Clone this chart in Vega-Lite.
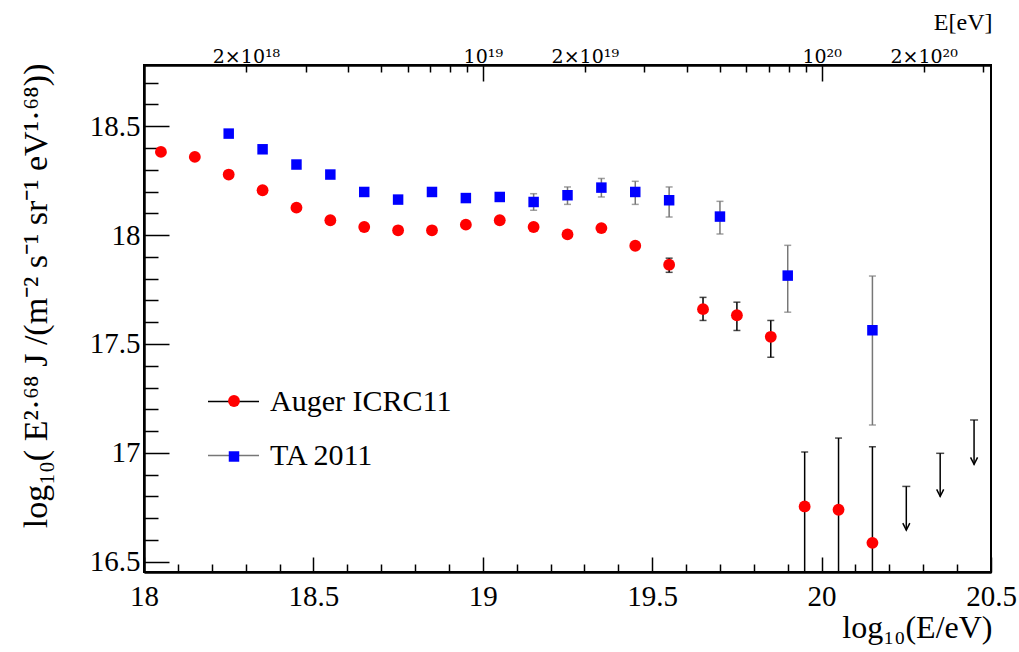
{
  "$schema": "https://vega.github.io/schema/vega-lite/v6.json",
  "width": 847,
  "height": 507,
  "autosize": {"type": "none"},
  "padding": {"left": 144, "top": 65, "right": 28, "bottom": 80},
  "background": "white",
  "config": {
    "view": {"stroke": "black", "strokeWidth": 2},
    "font": "Liberation Serif",
    "axis": {
      "grid": false,
      "domainColor": "black",
      "domainWidth": 2,
      "tickColor": "black",
      "tickWidth": 1.5,
      "labelColor": "black",
      "titleColor": "black",
      "labelFont": "Liberation Serif",
      "titleFont": "Liberation Serif",
      "titleFontWeight": "normal",
      "labelFlush": false,
      "labelOverlap": false
    },
    "legend": {"padding": 0, "offset": 0, "labelFont": "Liberation Serif", "labelColor": "black"}
  },
  "datasets": {
    "points": [
      {"series": "Auger", "logE": 18.05, "v": 18.382},
      {"series": "Auger", "logE": 18.15, "v": 18.359},
      {"series": "Auger", "logE": 18.25, "v": 18.278},
      {"series": "Auger", "logE": 18.35, "v": 18.206},
      {"series": "Auger", "logE": 18.45, "v": 18.126},
      {"series": "Auger", "logE": 18.55, "v": 18.068},
      {"series": "Auger", "logE": 18.65, "v": 18.037},
      {"series": "Auger", "logE": 18.75, "v": 18.022},
      {"series": "Auger", "logE": 18.85, "v": 18.022},
      {"series": "Auger", "logE": 18.95, "v": 18.048},
      {"series": "Auger", "logE": 19.05, "v": 18.068},
      {"series": "Auger", "logE": 19.15, "v": 18.037},
      {"series": "Auger", "logE": 19.25, "v": 18.003},
      {"series": "Auger", "logE": 19.35, "v": 18.032},
      {"series": "Auger", "logE": 19.45, "v": 17.951},
      {"series": "Auger", "logE": 19.55, "v": 17.864},
      {"series": "Auger", "logE": 19.65, "v": 17.66},
      {"series": "Auger", "logE": 19.75, "v": 17.632},
      {"series": "Auger", "logE": 19.85, "v": 17.533},
      {"series": "Auger", "logE": 19.95, "v": 16.754},
      {"series": "Auger", "logE": 20.05, "v": 16.739},
      {"series": "Auger", "logE": 20.15, "v": 16.587},
      {"series": "TA", "logE": 18.25, "v": 18.466},
      {"series": "TA", "logE": 18.35, "v": 18.394},
      {"series": "TA", "logE": 18.45, "v": 18.324},
      {"series": "TA", "logE": 18.55, "v": 18.278},
      {"series": "TA", "logE": 18.65, "v": 18.198},
      {"series": "TA", "logE": 18.75, "v": 18.163},
      {"series": "TA", "logE": 18.85, "v": 18.198},
      {"series": "TA", "logE": 18.95, "v": 18.17},
      {"series": "TA", "logE": 19.05, "v": 18.175},
      {"series": "TA", "logE": 19.15, "v": 18.152},
      {"series": "TA", "logE": 19.25, "v": 18.183},
      {"series": "TA", "logE": 19.35, "v": 18.218},
      {"series": "TA", "logE": 19.45, "v": 18.198},
      {"series": "TA", "logE": 19.55, "v": 18.16},
      {"series": "TA", "logE": 19.7, "v": 18.085},
      {"series": "TA", "logE": 19.9, "v": 17.814},
      {"series": "TA", "logE": 20.15, "v": 17.563}
    ],
    "errs": [
      {"series": "Auger ICRC11", "logE": 19.55, "lo": 17.829, "hi": 17.894},
      {"series": "Auger ICRC11", "logE": 19.65, "lo": 17.608, "hi": 17.714},
      {"series": "Auger ICRC11", "logE": 19.75, "lo": 17.562, "hi": 17.692},
      {"series": "Auger ICRC11", "logE": 19.85, "lo": 17.439, "hi": 17.608},
      {"series": "Auger ICRC11", "logE": 19.95, "lo": 16.0, "hi": 17.004},
      {"series": "Auger ICRC11", "logE": 20.05, "lo": 16.0, "hi": 17.068},
      {"series": "Auger ICRC11", "logE": 20.15, "lo": 16.0, "hi": 17.028},
      {"series": "TA 2011", "logE": 19.05, "lo": 18.163, "hi": 18.187},
      {"series": "TA 2011", "logE": 19.15, "lo": 18.114, "hi": 18.19},
      {"series": "TA 2011", "logE": 19.25, "lo": 18.141, "hi": 18.221},
      {"series": "TA 2011", "logE": 19.35, "lo": 18.175, "hi": 18.26},
      {"series": "TA 2011", "logE": 19.45, "lo": 18.141, "hi": 18.247},
      {"series": "TA 2011", "logE": 19.55, "lo": 18.083, "hi": 18.221},
      {"series": "TA 2011", "logE": 19.7, "lo": 18.005, "hi": 18.155},
      {"series": "TA 2011", "logE": 19.9, "lo": 17.646, "hi": 17.953},
      {"series": "TA 2011", "logE": 20.15, "lo": 17.128, "hi": 17.812}
    ],
    "limits": [
      {"logE": 20.25, "top": 16.846, "tip": 16.645},
      {"logE": 20.35, "top": 16.998, "tip": 16.8},
      {"logE": 20.45, "top": 17.151, "tip": 16.947}
    ]
  },
  "resolve": {
    "scale": {"x": "shared", "y": "shared"},
    "axis": {"x": "independent", "y": "independent"}
  },
  "layer": [
    {
      "data": {"name": "errs"},
      "mark": {"type": "rule", "strokeWidth": 1.5, "clip": true},
      "encoding": {
        "x": {
          "field": "logE", "type": "quantitative",
          "scale": {"domain": [18, 20.5], "nice": false, "zero": false},
          "axis": {
            "orient": "bottom",
            "values": [18, 18.5, 19, 19.5, 20, 20.5],
            "format": "~g",
            "tickSize": -15,
            "labelFontSize": 29,
            "labelPadding": 25,
            "title": "log₁₀(E/eV)",
            "titleFontSize": 32,
            "titleAnchor": "end",
            "titleAlign": "right",
            "titleBaseline": "alphabetic",
            "titleX": 848,
            "titleY": 65
          }
        },
        "y": {
          "field": "lo", "type": "quantitative",
          "scale": {"domain": [16.453, 18.781], "nice": false, "zero": false},
          "axis": {
            "orient": "left",
            "values": [16.5, 17, 17.5, 18, 18.5],
            "format": "~g",
            "tickSize": -25,
            "labelFontSize": 29,
            "labelPadding": 29,
            "labelBaseline": "middle",
            "title": "log₁₀( E²·⁶⁸ J /(m⁻²  s⁻¹ sr⁻¹ eV¹·⁶⁸))",
            "titleFontSize": 34,
            "titleAnchor": "end",
            "titleAlign": "right",
            "titleAngle": 270,
            "titleBaseline": "alphabetic",
            "titleX": -98,
            "titleY": -2
          }
        },
        "y2": {"field": "hi"},
        "stroke": {
          "field": "series", "type": "nominal",
          "scale": {"domain": ["Auger ICRC11", "TA 2011"], "range": ["black", "#777777"]},
          "legend": {
            "orient": "none",
            "legendX": 63,
            "legendY": 310,
            "title": null,
            "symbolType": "stroke",
            "symbolSize": 2601,
            "symbolStrokeWidth": 1.5,
            "labelFontSize": 30,
            "labelLimit": 0,
            "labelOffset": 10,
            "rowPadding": 12
          }
        }
      }
    },
    {
      "data": {"name": "errs"},
      "transform": [
        {"filter": "datum.series == 'Auger ICRC11'"},
        {"fold": ["lo", "hi"], "as": ["end", "yv"]}
      ],
      "mark": {"type": "tick", "orient": "horizontal", "size": 7, "thickness": 1.5, "color": "black", "clip": true},
      "encoding": {
        "x": {
          "field": "logE", "type": "quantitative",
          "scale": {"domain": [18, 20.5], "nice": false, "zero": false},
          "axis": {
            "orient": "bottom",
            "values": [18.1, 18.2, 18.3, 18.4, 18.6, 18.7, 18.8, 18.9, 19.1, 19.2, 19.3, 19.4, 19.6, 19.7, 19.8, 19.9, 20.1, 20.2, 20.3, 20.4],
            "tickSize": -8,
            "labels": false,
            "title": null
          }
        },
        "y": {
          "field": "yv", "type": "quantitative",
          "scale": {"domain": [16.453, 18.781], "nice": false, "zero": false},
          "axis": {
            "orient": "left",
            "values": [16.6, 16.7, 16.8, 16.9, 17.1, 17.2, 17.3, 17.4, 17.6, 17.7, 17.8, 17.9, 18.1, 18.2, 18.3, 18.4, 18.6, 18.7],
            "tickSize": -14,
            "labels": false,
            "title": null
          }
        }
      }
    },
    {
      "data": {"name": "errs"},
      "transform": [
        {"filter": "datum.series == 'TA 2011'"},
        {"fold": ["lo", "hi"], "as": ["end", "yv"]}
      ],
      "mark": {"type": "tick", "orient": "horizontal", "size": 7, "thickness": 1.5, "color": "#777777", "clip": true},
      "encoding": {
        "x": {
          "field": "logE", "type": "quantitative",
          "scale": {"domain": [18, 20.5], "nice": false, "zero": false},
          "axis": {
            "orient": "top",
            "values": [18.30103, 18.47712, 18.60206, 18.69897, 18.77815, 18.84510, 18.90309, 18.95424, 19.30103, 19.47712, 19.60206, 19.69897, 19.77815, 19.84510, 19.90309, 19.95424, 20.30103, 20.47712],
            "tickSize": -7,
            "labelFont": "DejaVu Serif",
            "labelFontSize": 19,
            "labelPadding": 10,
            "labelBaseline": "alphabetic",
            "labelExpr": "abs(datum.value - 18.30103) < 0.001 ? '2×10¹⁸' : abs(datum.value - 19.30103) < 0.001 ? '2×10¹⁹' : abs(datum.value - 20.30103) < 0.001 ? '2×10²⁰' : ''",
            "title": "E[eV]",
            "titleFontSize": 24,
            "titleAnchor": "end",
            "titleAlign": "right",
            "titleBaseline": "alphabetic",
            "titleX": 848,
            "titleY": -36
          }
        },
        "y": {
          "field": "yv", "type": "quantitative",
          "scale": {"domain": [16.453, 18.781], "nice": false, "zero": false},
          "axis": null
        }
      }
    },
    {
      "data": {"name": "limits"},
      "mark": {"type": "rule", "strokeWidth": 1.5, "color": "black"},
      "encoding": {
        "x": {
          "field": "logE", "type": "quantitative",
          "scale": {"domain": [18, 20.5], "nice": false, "zero": false},
          "axis": {
            "orient": "top",
            "values": [19, 20],
            "tickSize": -16,
            "labelFont": "DejaVu Serif",
            "labelFontSize": 19,
            "labelPadding": 19,
            "labelBaseline": "alphabetic",
            "labelExpr": "datum.value == 19 ? '10¹⁹' : '10²⁰'",
            "title": null
          }
        },
        "y": {
          "field": "top", "type": "quantitative",
          "scale": {"domain": [16.453, 18.781], "nice": false, "zero": false},
          "axis": null
        },
        "y2": {"field": "tip"}
      }
    },
    {
      "data": {"name": "limits"},
      "mark": {"type": "tick", "orient": "horizontal", "size": 8, "thickness": 1.5, "color": "black"},
      "encoding": {
        "x": {"field": "logE", "type": "quantitative", "scale": {"domain": [18, 20.5], "nice": false, "zero": false}, "axis": null},
        "y": {"field": "top", "type": "quantitative", "scale": {"domain": [16.453, 18.781], "nice": false, "zero": false}, "axis": null}
      }
    },
    {
      "data": {"name": "limits"},
      "mark": {"type": "point", "shape": "M-1,-2L0,0L1,-2", "size": 49, "filled": false, "stroke": "black", "strokeWidth": 1.5, "opacity": 1},
      "encoding": {
        "x": {"field": "logE", "type": "quantitative", "scale": {"domain": [18, 20.5], "nice": false, "zero": false}, "axis": null},
        "y": {"field": "tip", "type": "quantitative", "scale": {"domain": [16.453, 18.781], "nice": false, "zero": false}, "axis": null}
      }
    },
    {
      "data": {"name": "points"},
      "mark": {"type": "point", "filled": true, "opacity": 1, "strokeWidth": 0},
      "encoding": {
        "x": {"field": "logE", "type": "quantitative", "scale": {"domain": [18, 20.5], "nice": false, "zero": false}, "axis": null},
        "y": {"field": "v", "type": "quantitative", "scale": {"domain": [16.453, 18.781], "nice": false, "zero": false}, "axis": null},
        "color": {
          "field": "series", "type": "nominal",
          "scale": {"domain": ["Auger", "TA"], "range": ["#ff0000", "#0000ff"]},
          "legend": {
            "orient": "none",
            "legendX": 84,
            "legendY": 330,
            "title": null,
            "labelExpr": "''",
            "labelFontSize": 1,
            "symbolStrokeWidth": 0,
            "rowPadding": 44
          }
        },
        "shape": {
          "field": "series", "type": "nominal",
          "scale": {"domain": ["Auger", "TA"], "range": ["circle", "square"]}
        },
        "size": {
          "field": "series", "type": "nominal",
          "scale": {"domain": ["Auger", "TA"], "range": [140, 110]}
        }
      }
    }
  ]
}
